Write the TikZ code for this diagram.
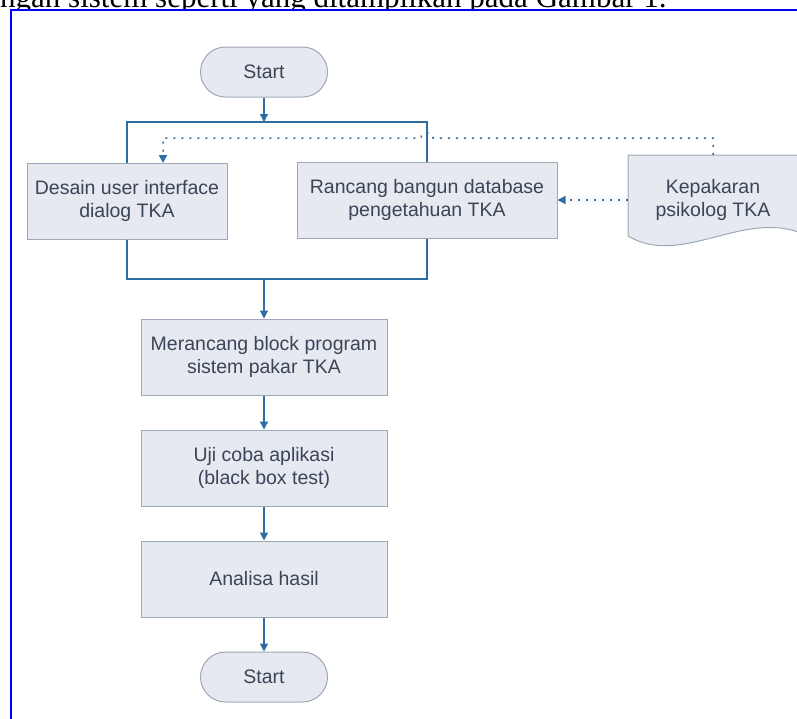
\documentclass[tikz,border=0pt]{standalone}
\usepackage{fontspec}
\usepackage{tikz}
\usetikzlibrary{arrows.meta,positioning,calc}
\newfontfamily\lbl{Liberation Sans}
\newfontfamily\capt{Liberation Serif}
\definecolor{boxfill}{HTML}{E6E9F0}
\definecolor{boxedge}{HTML}{9FA8B8}
\definecolor{flowblue}{HTML}{2E6DA4}
\definecolor{txtgrey}{HTML}{3A4558}
\tikzset{
  proc/.style={draw=boxedge, fill=boxfill, line width=1pt, align=center, text=txtgrey, font=\lbl\fontsize{19.5}{23}\selectfont, minimum width=246pt, minimum height=76pt, inner sep=2pt},
  term/.style={proc, rounded corners=25pt, minimum width=127pt, minimum height=50pt},
  docshape/.style={draw=boxedge, fill=boxfill, line width=1pt},
  flow/.style={draw=flowblue, line width=1.3pt, -{Triangle[width=8pt,length=8pt]}},
  link/.style={draw=flowblue, line width=1.3pt},
  dots/.style={draw=flowblue, line width=1.5pt, dash pattern=on 2pt off 6pt}
}
\begin{document}
\begin{tikzpicture}[x=1pt, y=-1pt]
\useasboundingbox (0,0) rectangle (797,718);
% text of the page above the figure
\node[anchor=base west, inner sep=0pt, font=\capt\fontsize{31}{36}\selectfont] (caption) at (0,7) {ngan sistem seperti yang ditampilkan pada Gambar 1.};
\fill[white] (11,10) rectangle (800,720);
\draw[blue, line width=2pt] (11,720) -- (11,10.3) -- (800,10.3);
% steps
\node[term] (start) at (264,72) {Start};
\node[proc, minimum width=200pt] (desain) at (127,201) {Desain user interface\\dialog TKA};
\node[proc, minimum width=260pt] (rancang) at (427,200) {Rancang bangun database\\pengetahuan TKA};
\draw[docshape] (628,155) -- (798,155) -- (798,232) .. controls (740,212) and (680,267) .. (628,236) -- cycle;
\node[align=center, text=txtgrey, font=\lbl\fontsize{19.5}{23}\selectfont, minimum width=170pt, minimum height=90pt, inner sep=0pt] (pakar) at (713,200) {Kepakaran\\psikolog TKA};
\node[proc] (merancang) at (264,357) {Merancang block program\\sistem pakar TKA};
\node[proc] (uji) at (264,468) {Uji coba aplikasi\\(black box test)};
\node[proc] (analisa) at (264,579) {Analisa hasil};
\node[term] (stop) at (264,677) {Start};
% connectors
\coordinate (split) at (264,122);
\coordinate (join) at (264,279);
\coordinate (hop) at (427,138);
\draw[flow] (start) -- (split);
\draw[link] (desain.north) |- (split) -| (rancang.north);
\draw[link] (desain.south) |- (join) -| (rancang.south);
\draw[flow] (join) -- (merancang);
\draw[flow] (merancang) -- (uji);
\draw[flow] (uji) -- (analisa);
\draw[flow] (analisa) -- (stop);
\draw[dots, -{Triangle[width=8pt,length=8pt]}] (pakar.west) -- (rancang.east);
\draw[dots, -{Triangle[width=8pt,length=8pt]}] (pakar.north) -- (pakar.north |- hop) -- ([xshift=6pt]hop) .. controls ([xshift=6pt,yshift=7pt]hop) and ([xshift=-6pt,yshift=7pt]hop) .. ([xshift=-6pt]hop) -- (hop -| 163,0) -- (163,163);
\end{tikzpicture}
\end{document}
